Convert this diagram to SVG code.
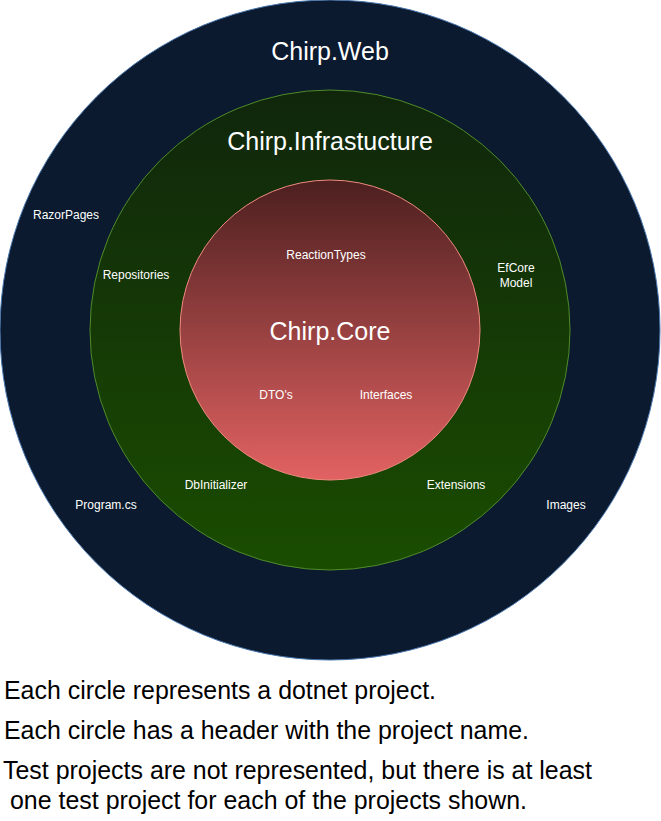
<svg xmlns="http://www.w3.org/2000/svg" width="661" height="821" viewBox="0 0 661 821">
<defs>
<linearGradient id="gInfra" x1="0" y1="0" x2="0" y2="1">
<stop offset="0" stop-color="#10260c"/>
<stop offset="1" stop-color="#1a4d00"/>
</linearGradient>
<linearGradient id="gCore" x1="0" y1="0" x2="0" y2="1">
<stop offset="0" stop-color="#4c1f1f"/>
<stop offset="1" stop-color="#e26262"/>
</linearGradient>
<style>
.t{font-family:"Liberation Sans",Arial,sans-serif;fill:#ffffff;text-anchor:middle}
.h{font-size:25px}
.s{font-size:12px}
.n{font-family:"Liberation Sans",Arial,sans-serif;font-size:25px;fill:#000000}
</style>
</defs>
<rect width="661" height="821" fill="#ffffff"/>
<g id="web">
<circle cx="330" cy="330" r="330" fill="#0b1a2e" stroke="#4a78b0" stroke-width="1"/>
<text class="t h" x="330" y="60">Chirp.Web</text>
<text class="t s" x="66" y="219">RazorPages</text>
<text class="t s" x="106" y="509">Program.cs</text>
<text class="t s" x="566" y="509">Images</text>
</g>
<g id="infrastructure">
<circle cx="330" cy="330" r="240" fill="url(#gInfra)" stroke="#4f8a2a" stroke-width="1"/>
<text class="t h" x="330" y="150">Chirp.Infrastucture</text>
<text class="t s" x="136" y="279">Repositories</text>
<text class="t s" x="516" y="272">EfCore</text>
<text class="t s" x="516" y="287">Model</text>
<text class="t s" x="216" y="489">DbInitializer</text>
<text class="t s" x="456" y="489">Extensions</text>
</g>
<g id="core">
<circle cx="330" cy="330" r="150" fill="url(#gCore)" stroke="#f08a80" stroke-width="1"/>
<text class="t h" x="330" y="340">Chirp.Core</text>
<text class="t s" x="326" y="259">ReactionTypes</text>
<text class="t s" x="276" y="399">DTO's</text>
<text class="t s" x="386" y="399">Interfaces</text>
</g>
<g id="connectors"/>
<g id="notes">
<text class="n" x="4" y="699" textLength="432" lengthAdjust="spacingAndGlyphs">Each circle represents a dotnet project.</text>
<text class="n" x="4" y="739" textLength="525" lengthAdjust="spacingAndGlyphs">Each circle has a header with the project name.</text>
<text class="n" x="3" y="779" textLength="589" lengthAdjust="spacingAndGlyphs">Test projects are not represented, but there is at least</text>
<text class="n" x="10" y="809" textLength="517" lengthAdjust="spacingAndGlyphs">one test project for each of the projects shown.</text>
</g>
</svg>
